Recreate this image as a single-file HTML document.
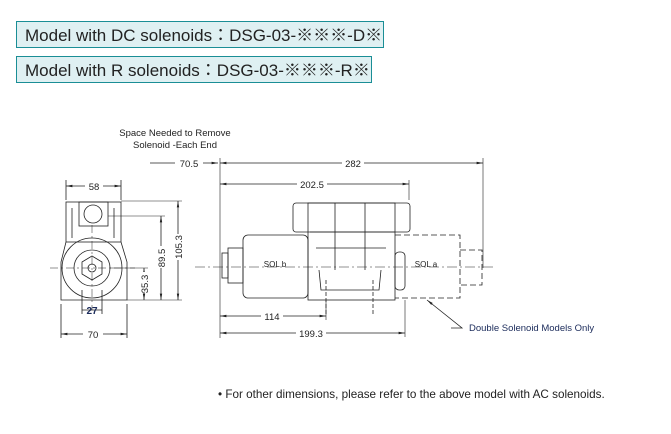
<!DOCTYPE html>
<html><head><meta charset="utf-8"><style>
body{margin:0;background:#fff;width:671px;height:434px;overflow:hidden;position:relative;font-family:"Liberation Sans","Noto Sans CJK JP",sans-serif}
.box{position:absolute;left:16px;height:27px;background:#dff0f2;border:1px solid #1a8e96;font-size:17px;line-height:27px;padding-left:8px;color:#222;box-sizing:border-box}
</style></head><body>
<div class="box" style="top:21px;width:368px">Model with DC solenoids：DSG-03-※※※-D※</div>
<div class="box" style="top:56px;width:356px">Model with R solenoids：DSG-03-※※※-R※</div>
<svg width="671" height="434" style="position:absolute;left:0;top:0" font-family="Liberation Sans, sans-serif">
<defs><marker id="a" markerWidth="8" markerHeight="6" refX="8" refY="3" orient="auto-start-reverse"><path d="M0,1.5L8,3L0,4.5z" fill="#222"/></marker></defs>
<g stroke="#222" stroke-width="0.8" fill="none">
<rect x="66" y="202" width="55" height="40"/>
<rect x="79" y="202" width="29" height="24"/>
<circle cx="93" cy="214" r="9"/>
<path d="M66,242 L61,262 L61,300 L127,300 L127,262 L121,242"/>
<circle cx="92" cy="268" r="30"/>
<circle cx="92" cy="268" r="18"/>
<polygon points="92,256 102,262 102,274 92,280 82,274 82,262"/>
<circle cx="92" cy="268" r="4"/>
<path d="M72,208v30M114,208v30" />
<path d="M66,180v20M121,180v20M61,304v34M127,304v34M82,290v24M102,290v24"/>
<path d="M66,186H121" marker-start="url(#a)" marker-end="url(#a)"/>
<path d="M61,334H127" marker-start="url(#a)" marker-end="url(#a)"/>
<path d="M82,310H102"/>
<path d="M144,268V300" marker-start="url(#a)" marker-end="url(#a)"/>
<path d="M161,216V300" marker-start="url(#a)" marker-end="url(#a)"/>
<path d="M178,201V300" marker-start="url(#a)" marker-end="url(#a)"/>
<path d="M127,300H182M110,268H148M108,216H165M121,201H182" stroke-width="0.5"/>
<path d="M50,268H135M92,225V310" stroke-dasharray="8,3,2,3" stroke-width="0.5"/>
<rect x="293" y="203" width="117" height="29" rx="3"/>
<rect x="308" y="203" width="87" height="97"/>
<rect x="243" y="235" width="65" height="63" rx="5"/>
<rect x="228" y="248" width="15" height="35"/>
<rect x="222" y="253" width="6" height="25"/>
<path d="M310,232h85M316,248h70M319,270l2,20h58l2,-20M335,203v67M365,203v67"/>
<rect x="395" y="252" width="10" height="38" rx="4"/>
<path d="M395,235H460V298H395M460,250h22v35h-22" stroke-dasharray="6,3"/>
<path d="M195,267H495" stroke-dasharray="10,3,2,3" stroke-width="0.5"/>
<path d="M326,280v35M373,280v35" stroke-dasharray="4,2"/>
<path d="M220,158v180M483,158v110M409,180v20M326,300v20M405,300v37" stroke-width="0.6"/>
<path d="M150,163H218" marker-end="url(#a)"/>
<path d="M220,163H483" marker-start="url(#a)" marker-end="url(#a)"/>
<path d="M220,184H409" marker-start="url(#a)" marker-end="url(#a)"/>
<path d="M220,316H326" marker-start="url(#a)" marker-end="url(#a)"/>
<path d="M220,333H405" marker-start="url(#a)" marker-end="url(#a)"/>
<path d="M451,328H462L427,300" marker-end="url(#a)"/>
</g>
<g fill="#222" font-size="9.5" text-anchor="middle">
<text x="175" y="136">Space Needed to Remove</text>
<text x="175" y="148">Solenoid -Each End</text>
<rect x="175" y="157" width="28" height="11" fill="#fff"/><text x="189" y="167">70.5</text>
<rect x="342" y="157" width="22" height="11" fill="#fff"/><text x="353" y="167">282</text>
<rect x="297" y="178" width="30" height="11" fill="#fff"/><text x="312" y="188">202.5</text>
<rect x="85" y="180" width="18" height="11" fill="#fff"/><text x="94" y="190">58</text>
<rect x="83" y="328" width="20" height="11" fill="#fff"/><text x="93" y="338">70</text>
<text x="92" y="314" font-weight="bold" font-size="10" fill="#1a2a5a">27</text>
<rect x="261" y="310" width="22" height="11" fill="#fff"/><text x="272" y="320">114</text>
<rect x="296" y="327" width="30" height="11" fill="#fff"/><text x="311" y="337">199.3</text>
<rect x="138" y="272" width="12" height="20" fill="#fff"/><text transform="translate(148,284) rotate(-90)">35.3</text>
<rect x="155" y="246" width="12" height="22" fill="#fff"/><text transform="translate(165,258) rotate(-90)">89.5</text>
<rect x="172" y="234" width="12" height="26" fill="#fff"/><text transform="translate(182,247) rotate(-90)">105.3</text>
<text x="275" y="267" font-size="8">SOL b</text>
<text x="426" y="267" font-size="8">SOL a</text>
<text x="469" y="331" text-anchor="start" fill="#1a2a5a">Double Solenoid Models Only</text>
<text x="218" y="398" text-anchor="start" font-size="11.7">• For other dimensions, please refer to the above model with AC solenoids.</text>
</g>
</svg>
</body></html>
